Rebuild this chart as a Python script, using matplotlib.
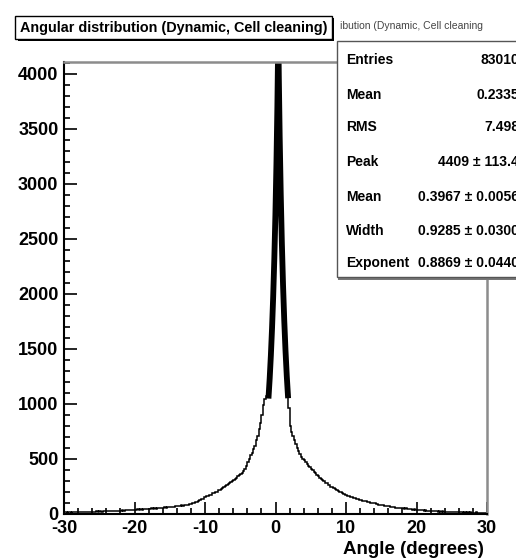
import numpy as np
import matplotlib.pyplot as plt
from matplotlib.patches import Rectangle

# histogram of the reconstructed angle, 0.2 degree bins from -30 to 30
bin_lo, bin_hi, bin_w = -30.0, 30.0, 0.2
counts = [
    14, 16, 12, 15, 17, 13, 16, 15, 18, 14,          # -30 .. -28
    17, 15, 19, 16, 18, 20, 17, 19, 16, 21,          # -28 .. -26
    19, 22, 20, 23, 21, 24, 22, 20, 25, 23,          # -26 .. -24
    26, 24, 28, 25, 27, 30, 26, 29, 31, 28,          # -24 .. -22
    30, 33, 31, 35, 32, 34, 37, 33, 36, 38,          # -22 .. -20
    39, 36, 41, 38, 43, 40, 44, 42, 46, 43,          # -20 .. -18
    47, 45, 50, 48, 52, 49, 54, 51, 56, 53,          # -18 .. -16
    57, 60, 58, 63, 61, 65, 62, 68, 66, 71,          # -16 .. -14
    70, 74, 72, 78, 76, 82, 80, 86, 84, 90,          # -14 .. -12
    95, 100, 98, 110, 113, 121, 126, 136, 140, 150,  # -12 .. -10
    154, 162, 163, 174, 176, 187, 189, 201, 204, 216,  # -10 .. -8
    220, 231, 234, 246, 250, 264, 268, 282, 288, 302,  # -8 .. -6
    308, 320, 326, 342, 350, 366, 376, 394, 408, 432,  # -6 .. -4
    470, 498, 532, 558, 592, 622, 668, 712, 772, 830,  # -4 .. -2
    900, 990, 1040, 1070, 1110, 1170, 1390, 1660, 2040, 2490,  # -2 .. 0
    3070, 3880, 3910, 3050, 2470, 2010, 1670, 1370, 1150, 960,  # 0 .. 2
    800, 748, 712, 668, 632, 598, 572, 543, 522, 498,  # 2 .. 4
    488, 468, 457, 438, 427, 408, 400, 383, 374, 353,  # 4 .. 6
    342, 328, 320, 306, 300, 285, 280, 266, 260, 248,  # 6 .. 8
    242, 232, 228, 216, 213, 202, 199, 188, 186, 176,  # 8 .. 10
    172, 163, 165, 152, 155, 144, 143, 133, 135, 126,  # 10 .. 12
    126, 121, 122, 115, 116, 109, 110, 103, 104, 97,   # 12 .. 14
    96, 91, 92, 85, 86, 79, 81, 74, 76, 70,            # 14 .. 16
    70, 65, 67, 61, 63, 57, 59, 54, 56, 50,            # 16 .. 18
    51, 47, 50, 44, 47, 41, 44, 39, 42, 36,            # 18 .. 20
    37, 34, 37, 32, 35, 30, 33, 28, 31, 27,            # 20 .. 22
    28, 25, 28, 24, 27, 22, 26, 21, 24, 20,            # 22 .. 24
    21, 19, 22, 18, 21, 17, 20, 16, 19, 15,            # 24 .. 26
    17, 14, 18, 13, 17, 13, 16, 12, 15, 12,            # 26 .. 28
    13, 11, 14, 10, 13, 10, 12, 9, 11, 10,             # 28 .. 30
]
edges = np.linspace(bin_lo, bin_hi, len(counts) + 1)

# fit: Peak * exp(-(|x - Mean| / Width)^Exponent), fitted around the peak
fit_peak, fit_peak_err = 4409, 113.4
fit_mean, fit_mean_err = 0.3967, 0.0056
fit_width, fit_width_err = 0.9285, 0.0300
fit_expo, fit_expo_err = 0.8869, 0.0440
fit_range = (-1.0, 1.79)

n_entries = 83010
h_mean = 0.2335
h_rms = 7.498

W, H = 516, 560
def fx(px):
    return px / W
def fy(py):
    return 1 - py / H

plt.rcParams['font.family'] = ['Liberation Sans', 'DejaVu Sans']
plt.rcParams['axes.unicode_minus'] = False

fig = plt.figure(figsize=(W / 100, H / 100), dpi=100)
ax = fig.add_axes([fx(64), fy(514), fx(487) - fx(64), fy(62) - fy(514)])

ax.stairs(counts, edges, color='black', lw=1.1)
xf = np.linspace(fit_range[0], fit_range[1], 400)
yf = fit_peak * np.exp(-(np.abs(xf - fit_mean) / fit_width) ** fit_expo)
ax.plot(xf, yf, color='black', lw=4.2, solid_capstyle='butt')

ax.set_xlim(bin_lo, bin_hi)
ax.set_ylim(0, 1.05 * max(counts))

ax.set_xticks(np.arange(-30, 31, 10))
ax.set_xticks(np.arange(-30, 31, 2), minor=True)
ax.set_yticks(np.arange(0, 4001, 500))
ax.set_yticks(np.arange(0, 4101, 100), minor=True)
ax.tick_params(axis='both', which='both', direction='in', top=False, right=False,
               width=1.2, color='black')
ax.tick_params(axis='both', which='major', length=9, labelsize=13)
ax.tick_params(axis='both', which='minor', length=4.5)
ax.tick_params(axis='x', pad=4)
ax.tick_params(axis='y', pad=4)
for lab in ax.get_xticklabels() + ax.get_yticklabels():
    lab.set_fontweight('bold')

for s in ['left', 'bottom']:
    ax.spines[s].set_color('black')
    ax.spines[s].set_linewidth(1.5)
for s in ['top', 'right']:
    ax.spines[s].set_color('#8c8c8c')
    ax.spines[s].set_linewidth(1.8)

fig.text(fx(484), fy(550), 'Angle (degrees)', ha='right', va='center',
         fontsize=13.5, fontweight='bold')

# title box with shadow
fig.patches.append(Rectangle((fx(18), fy(41)), fx(316), fy(16) - fy(39),
                             transform=fig.transFigure, facecolor='black',
                             edgecolor='none', zorder=5))
fig.patches.append(Rectangle((fx(15), fy(39)), fx(317), fy(16) - fy(39),
                             transform=fig.transFigure, facecolor='white',
                             edgecolor='black', lw=1.0, zorder=6))
fig.text(fx(174), fy(28), 'Angular distribution (Dynamic, Cell cleaning)',
         ha='center', va='center', fontsize=10.4, fontweight='bold', zorder=7)

# statistics box
fig.patches.append(Rectangle((fx(338), fy(280)), fx(200), fy(41) - fy(280),
                             transform=fig.transFigure, facecolor='#777777',
                             edgecolor='none', zorder=5))
fig.patches.append(Rectangle((fx(337), fy(277)), fx(200), fy(41) - fy(277),
                             transform=fig.transFigure, facecolor='white',
                             edgecolor='#555555', lw=1.0, zorder=6))
fig.text(fx(340), fy(26), 'ibution (Dynamic, Cell cleaning', ha='left', va='center',
         fontsize=7.5, zorder=7, color='#444444')

stat_rows = [
    ('Entries', f'{n_entries}'),
    ('Mean', f'{h_mean:.4f}'),
    ('RMS', f'{h_rms:.3f}'),
    ('Peak', f'{fit_peak} \u00b1 {fit_peak_err:.1f}'),
    ('Mean', f'{fit_mean:.4f} \u00b1 {fit_mean_err:.4f}'),
    ('Width', f'{fit_width:.4f} \u00b1 {fit_width_err:.4f}'),
    ('Exponent', f'{fit_expo:.4f} \u00b1 {fit_expo_err:.4f}'),
]
row_y = [60, 95, 127, 162, 197, 231, 263]
for (name, val), py in zip(stat_rows, row_y):
    fig.text(fx(346), fy(py), name, ha='left', va='center', fontsize=10,
             fontweight='bold', zorder=7)
    fig.text(fx(519), fy(py), val, ha='right', va='center', fontsize=10,
             fontweight='bold', zorder=7)

fig.savefig('out.png', dpi=100)
